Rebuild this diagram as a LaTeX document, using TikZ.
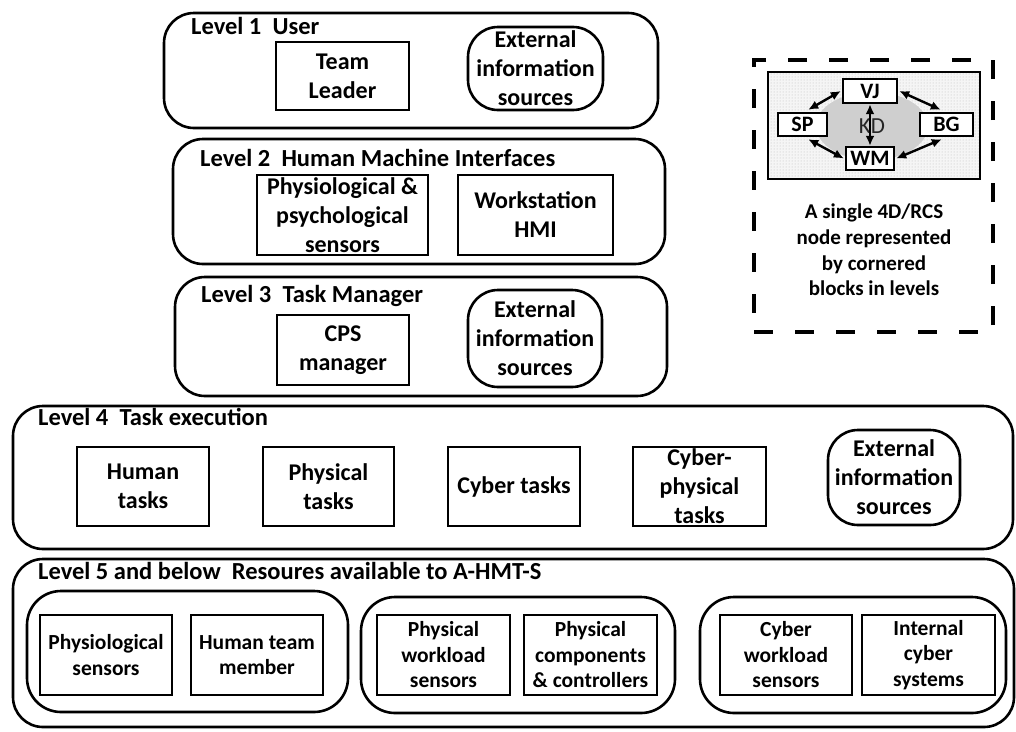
\documentclass[tikz,border=0pt]{standalone}
\usepackage{fontspec}
\setmainfont{Carlito}
\usetikzlibrary{patterns,arrows.meta,shapes.geometric}

\begin{document}
\begin{tikzpicture}[x=1pt,y=-1pt,
  tier/.style={draw, line width=2.6pt, rounded corners=30pt, inner sep=0pt},
  group/.style={draw, line width=2.6pt, rounded corners=34pt, inner sep=0pt},
  tierlabel/.style={anchor=base west, inner sep=0pt, font=\bfseries\fontsize{24.5}{29}\selectfont},
  blk/.style={draw, fill=white, line width=2.6pt, inner sep=0pt, align=center,
    font=\bfseries\fontsize{24}{29}\selectfont},
  ext/.style={blk, rounded corners=30pt},
  res/.style={blk, minimum width=132pt, minimum height=80pt,
    font=\bfseries\fontsize{21.5}{25.5}\selectfont},
  tag/.style={draw, fill=white, line width=2.4pt, inner sep=0pt,
    font=\bfseries\fontsize{22}{24}\selectfont},
  flow/.style={line width=2.4pt, {Latex[length=10pt,width=9pt]}-{Latex[length=10pt,width=9pt]}}
]
\useasboundingbox (0,0) rectangle (1016,731);

% ---------- Level 1 ----------
\node[tier, minimum width=494pt, minimum height=115pt] (L1) at (411,70.5) {};
\node[tierlabel] (L1t) at (191,34) {Level 1\ \ User};
\node[blk, minimum width=133pt, minimum height=68pt] (leader) at (342.5,76) {Team\\Leader};
\node[ext, minimum width=135pt, minimum height=83pt] (ext1) at (535.5,68.5) {External\\information\\sources};

% ---------- Level 2 ----------
\node[tier, minimum width=492pt, minimum height=125pt] (L2) at (419,201.5) {};
\node[tierlabel] (L2t) at (200,166) {Level 2\ \ Human Machine Interfaces};
\node[blk, minimum width=171pt, minimum height=80pt] (sens) at (342.5,215) {Physiological \&\\psychological\\sensors};
\node[blk, minimum width=155pt, minimum height=80pt] (hmi) at (535.5,215) {Workstation\\HMI};

% ---------- Level 3 ----------
\node[tier, minimum width=492pt, minimum height=119pt] (L3) at (421,336.5) {};
\node[tierlabel] (L3t) at (201,302) {Level 3\ \ Task Manager};
\node[blk, minimum width=132pt, minimum height=70pt] (cps) at (343,350) {CPS\\manager};
\node[ext, minimum width=134pt, minimum height=97pt] (ext3) at (535,338.5) {External\\information\\sources};

% ---------- Level 4 ----------
\node[tier, minimum width=1000pt, minimum height=143pt] (L4) at (513,477.5) {};
\node[tierlabel] (L4t) at (38,425) {Level 4\ \ Task execution};
\node[blk, minimum width=132pt, minimum height=79pt] (human) at (143,486.5) {Human\\tasks};
\node[blk, minimum width=131pt, minimum height=79pt] (phys) at (328.5,486.5) {Physical\\tasks};
\node[blk, minimum width=132pt, minimum height=79pt] (cyber) at (514,486.5) {Cyber tasks};
\node[blk, minimum width=133pt, minimum height=79pt] (cyphys) at (699.5,486.5) {Cyber-\\physical\\tasks};
\node[ext, minimum width=132pt, minimum height=95pt] (ext4) at (894,477.5) {External\\information\\sources};

% ---------- Level 5 ----------
\node[tier, minimum width=1001pt, minimum height=168pt] (L5) at (513.5,643) {};
\node[tierlabel] (L5t) at (38,579) {Level 5 and below\ \ Resoures available to A-HMT-S};
\node[group, minimum width=321pt, minimum height=121pt] (gHuman) at (187.5,651.5) {};
\node[group, minimum width=314pt, minimum height=116pt] (gPhys) at (518,655) {};
\node[group, minimum width=306pt, minimum height=116pt] (gCyber) at (853,655) {};
\node[res] (physio) at (106,655) {Physiological\\sensors};
\node[res] (member) at (257,655) {Human team\\member};
\node[res, minimum width=133pt] (pwl) at (443.5,655) {Physical\\workload\\sensors};
\node[res, minimum width=133pt] (pcc) at (590.5,655) {Physical\\components\\\& controllers};
\node[res] (cwl) at (786,655) {Cyber\\workload\\sensors};
\node[res, minimum width=133pt] (ics) at (928.5,655) {Internal\\cyber\\systems};

% ---------- Legend: one 4D/RCS node ----------
\node[draw, line width=3.2pt, dash pattern=on 19pt off 22pt,
  minimum width=239pt, minimum height=272pt, inner sep=0pt] (legend) at (873.5,196) {};
\node[draw, line width=2.8pt, inner sep=0pt, minimum width=212pt, minimum height=107pt,
  preaction={fill=gray!8}, pattern=dots, pattern color=gray!55] (rcs) at (874,125.5) {};
\node[ellipse, draw=none, fill=gray!38, minimum width=112pt, minimum height=68pt,
  inner sep=0pt] (kdzone) at (872,126) {};
\node[font=\fontsize{23}{24}\selectfont, text=black!85] (KD) at (872,126) {KD};
\node[tag, minimum width=54pt, minimum height=24pt] (VJ) at (870,91) {VJ};
\node[tag, minimum width=49pt, minimum height=23pt] (SP) at (802.5,124.5) {SP};
\node[tag, minimum width=53pt, minimum height=23pt] (BG) at (946.5,124.5) {BG};
\node[tag, minimum width=48pt, minimum height=23pt] (WM) at (870,158.5) {WM};
\draw[flow] ([xshift=-20pt,yshift=2pt]SP.north east) -- ([xshift=-1pt]VJ.west);
\draw[flow] ([xshift=1pt]VJ.east) -- ([xshift=22pt,yshift=2pt]BG.north west);
\draw[flow] ([xshift=-20pt,yshift=-2pt]SP.south east) -- ([xshift=-1pt]WM.west);
\draw[flow] ([xshift=1pt]WM.east) -- ([xshift=23pt,yshift=-2pt]BG.south west);
\draw[flow] (VJ.south) -- (WM.north);
\node[align=center, font=\bfseries\fontsize{21}{25.7}\selectfont] (caption) at (874,250)
  {A single 4D/RCS\\node represented\\by cornered\\blocks in levels};
\end{tikzpicture}
\end{document}
